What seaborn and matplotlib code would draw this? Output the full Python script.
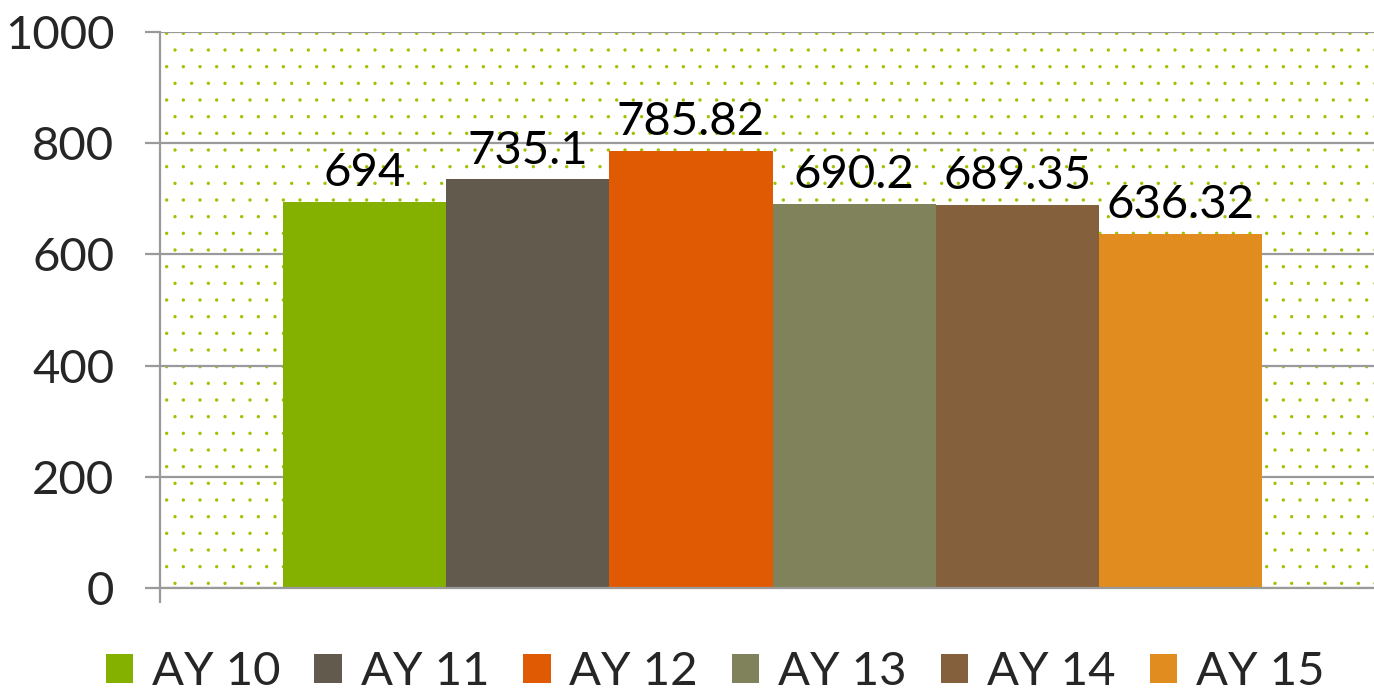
import matplotlib
matplotlib.use("Agg")
import matplotlib.pyplot as plt
import seaborn as sns
import pandas as pd
from matplotlib.patches import Patch

series = ["AY 10", "AY 11", "AY 12", "AY 13", "AY 14", "AY 15"]
values = [694, 735.1, 785.82, 690.2, 689.35, 636.32]
labels = ["694", "735.1", "785.82", "690.2", "689.35", "636.32"]
colors = ["#84B000", "#635A4E", "#E05A04", "#7F825A", "#84603C", "#E08C1E"]
yticks = [0, 200, 400, 600, 800, 1000]

sns.set_style("white")
plt.rcParams["font.family"] = ["Lato", "DejaVu Sans"]
plt.rcParams["hatch.linewidth"] = 0.0

df = pd.DataFrame({"series": series, "value": values})

fig = plt.figure(figsize=(13.74, 6.94), dpi=100)
ax = fig.add_axes([160 / 1374, 1 - 588 / 694, 1 - 160 / 1374, (588 - 32) / 694])

sns.barplot(data=df, x="series", y="value", hue="series", palette=colors,
            width=1.0, dodge=False, legend=False, ax=ax, saturation=1,
            linewidth=0, zorder=3)

ax.patch.set_facecolor("white")
ax.patch.set_hatch(".")
ax.patch.set_edgecolor("#9CC400")
ax.patch.set_linewidth(0)

ax.set_ylim(0, 1000)
ax.set_yticks(yticks)
ax.set_yticklabels([str(t) for t in yticks])
ax.set_xlim(-1.254, 6.186)
ax.set_xticks([-1.254])
ax.set_xticklabels([""])
ax.set_xlabel("")
ax.set_ylabel("")
ax.grid(axis="y", color="#9A9A9A", linewidth=1.6, zorder=1)
ax.set_axisbelow(True)
for s in ["top", "right"]:
    ax.spines[s].set_visible(False)
for s in ["left", "bottom"]:
    ax.spines[s].set_color("#9A9A9A")
    ax.spines[s].set_linewidth(1.6)
    ax.spines[s].set_zorder(4)
ax.tick_params(axis="y", length=11, width=1.6, color="#9A9A9A", labelsize=34, pad=22, left=True)
ax.tick_params(axis="x", length=11, width=1.6, color="#9A9A9A", bottom=True)

for i, (v, lab) in enumerate(zip(values, labels)):
    ax.text(i, v + 14, lab, ha="center", va="bottom", fontsize=34, color="black", zorder=5)

handles = [Patch(facecolor=c, edgecolor="none", label=s) for c, s in zip(colors, series)]
fig.legend(handles=handles, loc="center", bbox_to_anchor=(715 / 1374, 1 - 672 / 694), ncol=6,
           frameon=False, fontsize=34, handlelength=0.58, handleheight=0.58,
           handletextpad=0.4, columnspacing=0.72, borderaxespad=0)

fig.savefig("out.png", dpi=100)
